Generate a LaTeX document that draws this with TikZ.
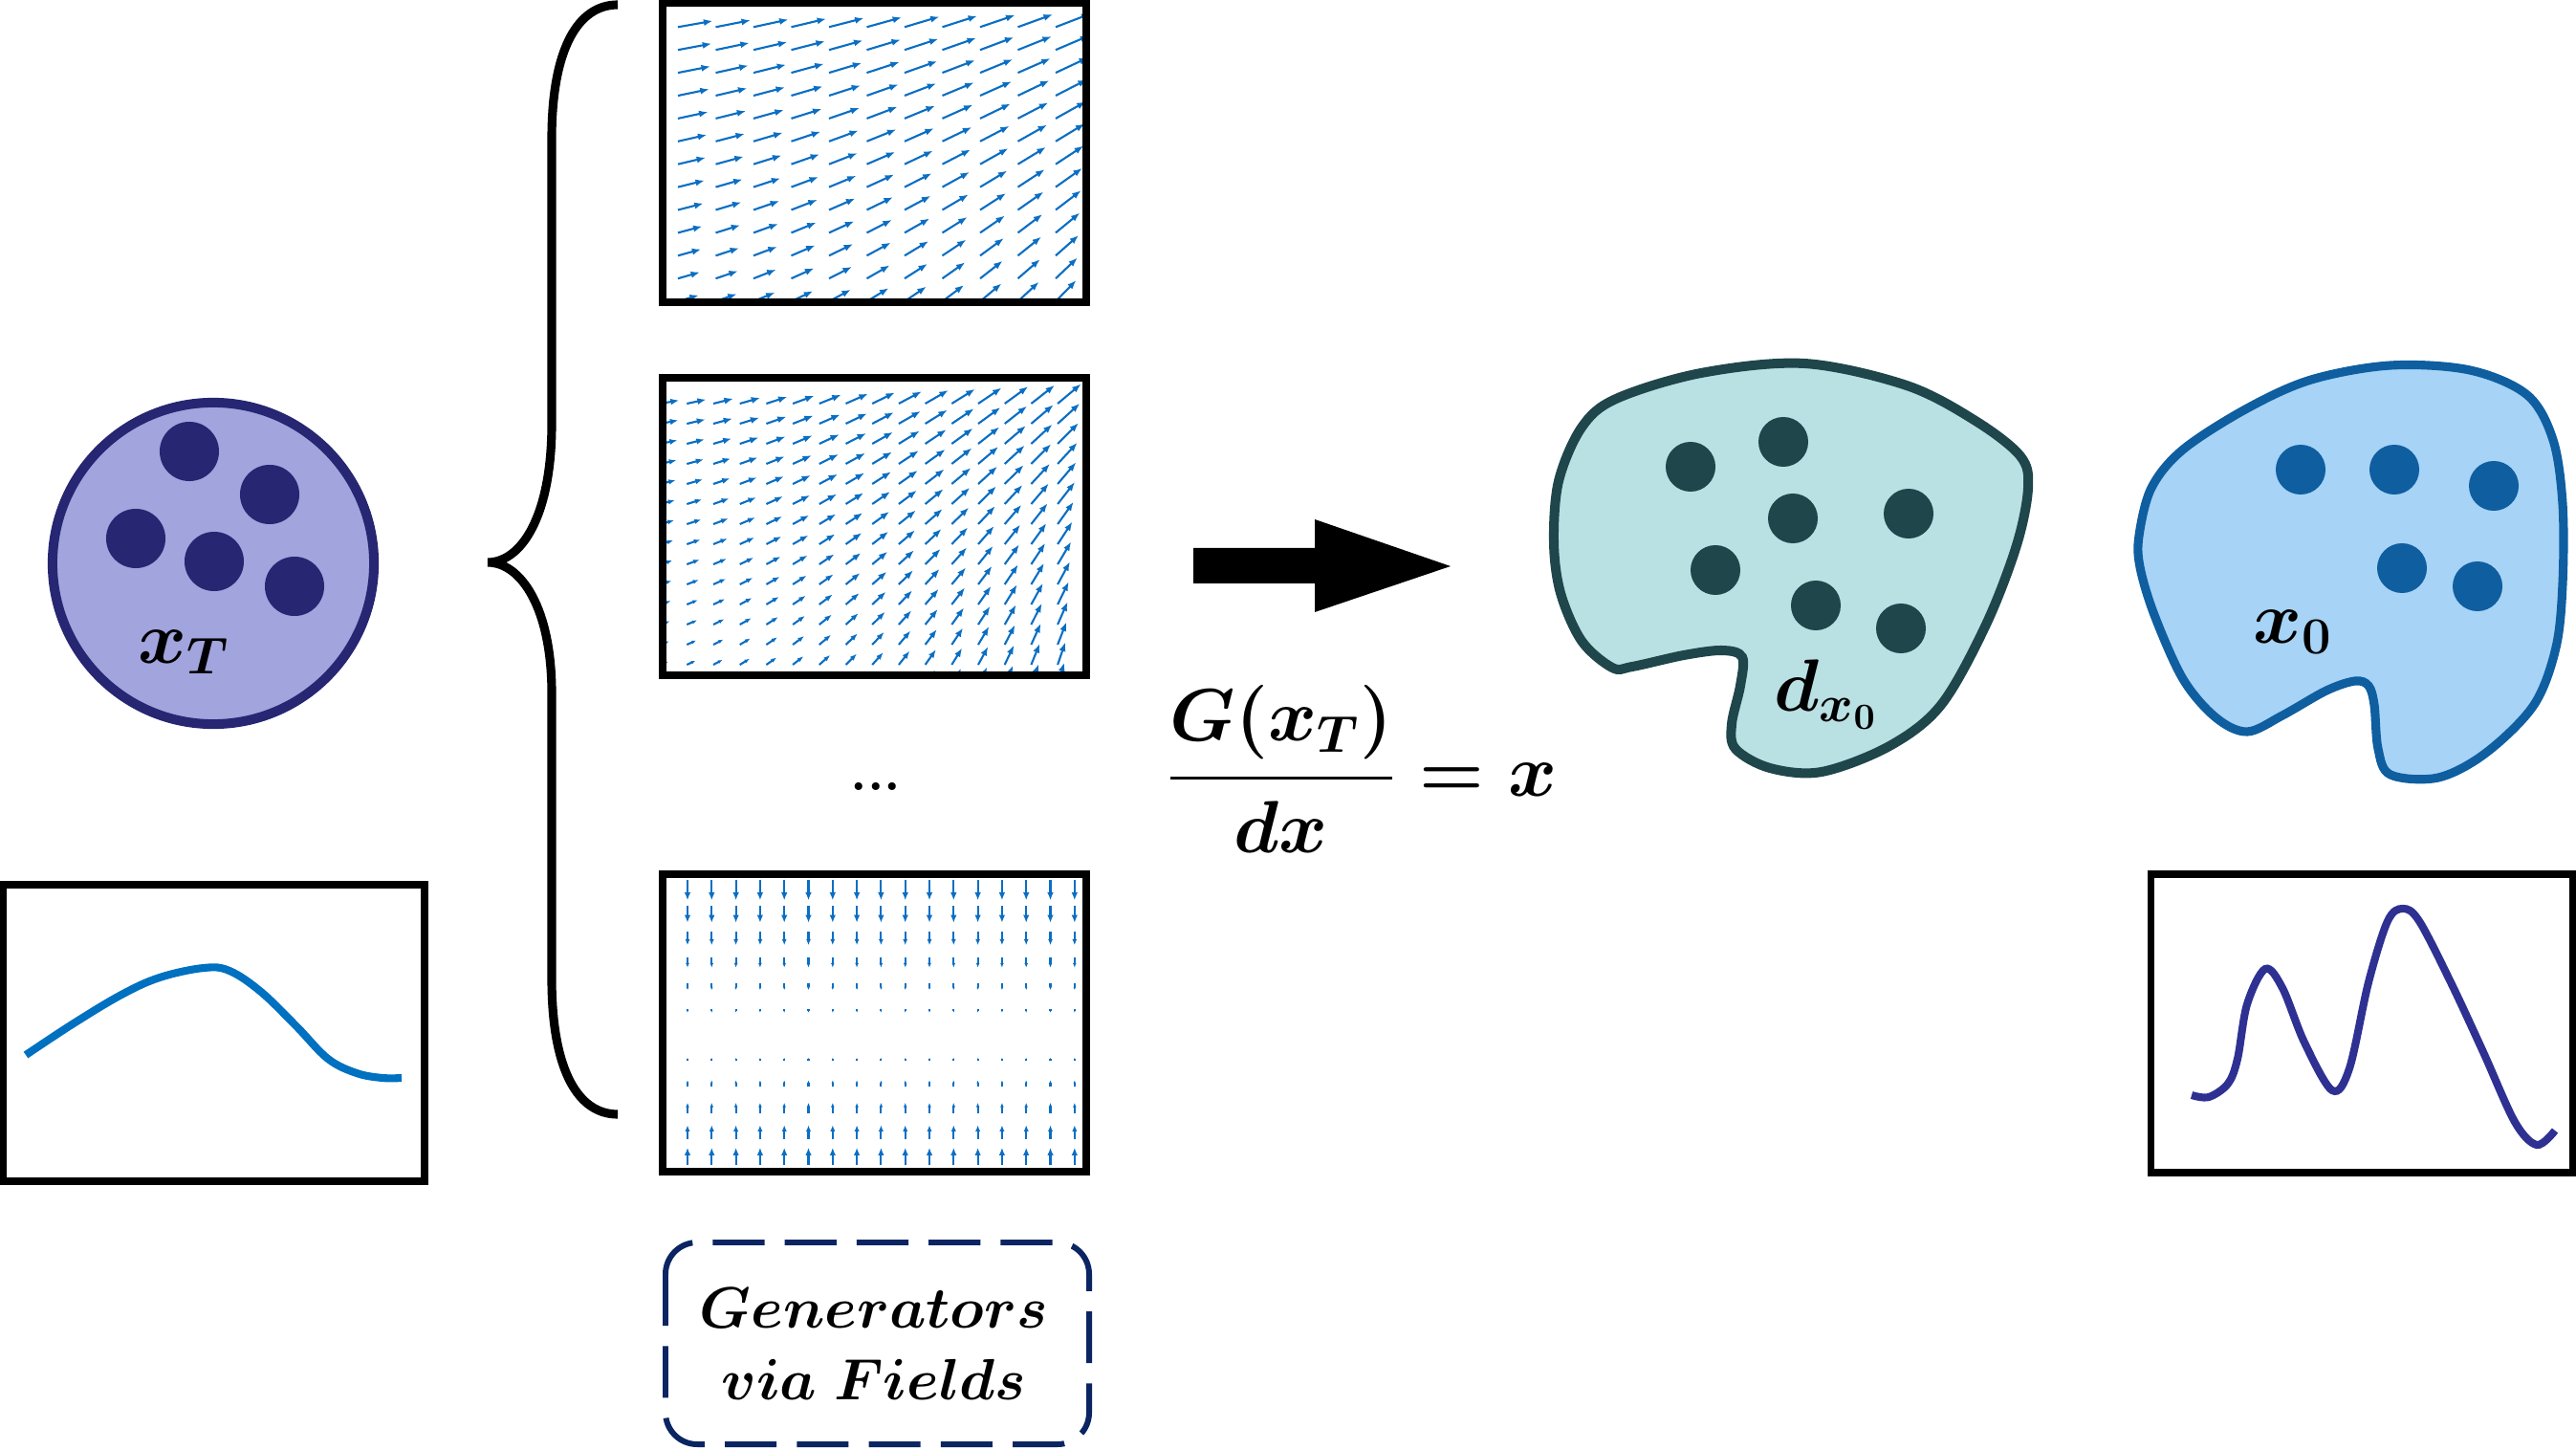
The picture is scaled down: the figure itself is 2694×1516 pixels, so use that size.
\documentclass[tikz,border=0pt]{standalone}
\usepackage{fix-cm}
\usepackage{amsmath}
\usetikzlibrary{arrows.meta}
\definecolor{fieldblue}{RGB}{10,110,195}
\definecolor{circfill}{RGB}{161,164,221}
\definecolor{circline}{RGB}{38,38,115}
\definecolor{tealfill}{RGB}{185,224,227}
\definecolor{tealline}{RGB}{31,70,75}
\definecolor{bluefill}{RGB}{166,211,246}
\definecolor{blueline}{RGB}{15,94,160}
\definecolor{curveA}{RGB}{0,112,192}
\definecolor{curveB}{RGB}{46,49,146}
\definecolor{dashnavy}{RGB}{11,37,99}
\begin{document}
\begin{tikzpicture}[x=0.01cm,y=-0.01cm,
  plotframe/.style={draw=black,line width=2pt},
  mlabel/.style={inner sep=0pt,font=\boldmath\fontsize{22}{26}\selectfont},
  curveline/.style={line width=2.3pt},
  qv/.style={fieldblue,line width=0.6pt},
]
\useasboundingbox (0,0) rectangle (2694,1516);

% ---------- left circle x_T ----------
\draw[draw=circline,fill=circfill,line width=2.85pt] (223,589) circle[radius=1.68cm];
\foreach \p in {(198,472),(282,517),(142,563),(224,587),(308,613)}
  \fill[circline] \p circle[radius=0.31cm];
\node[mlabel] (xT) at (192,682) {$x_T$};

% ---------- left plot ----------
\draw[plotframe] (3,925) rectangle (444,1235);
\draw[curveline,curveA] plot[smooth,tension=0.6] coordinates {(27,1103) (77,1070) (127,1040) (167,1022) (213,1012) (240,1015) (273,1037) (310,1073) (343,1107) (373,1122) (400,1127) (420,1127)};

% ---------- brace ----------
\draw[line width=2.6pt] (646,5) .. controls (605,5) and (577,50) .. (577,145) -- (577,443)
  .. controls (577,540) and (545,588) .. (510,588)
  .. controls (545,588) and (577,636) .. (577,725) -- (577,1023)
  .. controls (577,1120) and (605,1165) .. (646,1165);

% ---------- vector field 1 ----------
\begin{scope}
\clip (696.5,7) rectangle (1132.5,312.5);
\foreach \i in {0,...,11}{
 \foreach \j in {0,...,12}{
  \pgfmathsetmacro{\ang}{10+1.1*\i+0.55*\j+0.15*\i*\j}
  \pgfmathsetmacro{\len}{37+0.2*\i-1.18*\j+0.05*\i*\j}
  \pgfmathsetmacro{\hl}{min(2.7,0.45*\len*0.2845)}
  \pgfmathsetmacro{\hw}{0.75*\hl}
  \pgfmathsetmacro{\xa}{709+39.5*\i}
  \pgfmathsetmacro{\ya}{28.3+23.9*\j}
  \draw[qv,-{Latex[length=\hl pt,width=\hw pt]}] (\xa,\ya) -- ++({\len*cos(\ang)},{-\len*sin(\ang)});
 }}
\end{scope}
\draw[plotframe] (693,3.5) rectangle (1136,316);

% ---------- vector field 2 ----------
\begin{scope}
\clip (696.5,398.5) rectangle (1132.5,702.5);
\foreach \i in {0,...,16}{
 \foreach \j in {0,...,14}{
  \pgfmathsetmacro{\ang}{10+2*\i+0.9*\j+0.1*\i*\j}
  \pgfmathsetmacro{\len}{20+0.8*\i-0.85*\j+0.02*\i*\j}
  \pgfmathsetmacro{\hl}{min(2.7,0.45*\len*0.2845)}
  \pgfmathsetmacro{\hw}{0.75*\hl}
  \pgfmathsetmacro{\xa}{690.6+27.7*\i}
  \pgfmathsetmacro{\ya}{422+21*\j}
  \draw[qv,-{Latex[length=\hl pt,width=\hw pt]}] (\xa,\ya) -- ++({\len*cos(\ang)},{-\len*sin(\ang)});
 }}
\end{scope}
\draw[plotframe] (693,395) rectangle (1136,706);

% ---------- dots ----------
\node[inner sep=0pt,anchor=base,font=\bfseries\fontsize{16}{18}\selectfont] (dots) at (916,826) {...};

% ---------- vector field 3 ----------
\begin{scope}
\clip (696.5,917.5) rectangle (1132.5,1221.5);
\foreach \i in {0,...,16}{
 \foreach \j in {0,1,2,3,4,5,7,8,9,10,11}{
  \pgfmathsetmacro{\d}{6-\j}
  \pgfmathsetmacro{\s}{\d>0 ? 1 : -1}
  \pgfmathsetmacro{\len}{3.7*abs(\d)-0.5}
  \pgfmathsetmacro{\hl}{min(2.4,0.45*\len*0.2845)}
  \pgfmathsetmacro{\hw}{0.8*\hl}
  \pgfmathsetmacro{\xa}{719+25.3*\i}
  \pgfmathsetmacro{\yc}{1082.3+25.3*(\j-6)}
  \draw[qv,-{Latex[length=\hl pt,width=\hw pt]}] (\xa,{\yc-\s*\len/2}) -- (\xa,{\yc+\s*\len/2});
 }}
\end{scope}
\draw[plotframe] (693,914) rectangle (1136,1225);

% ---------- dashed label box ----------
\draw[dashnavy,line width=1.7pt,dash pattern=on 15.4pt off 6pt,rounded corners=9.4pt] (696,1299) rectangle (1139,1510);
\node[inner sep=0pt,align=center,font=\boldmath\fontsize{17.3}{21.3}\selectfont] (gen) at (914,1405) {$Generators$\\$via\ Fields$};

% ---------- big arrow ----------
\fill[black] (1248,573) -- (1375,573) -- (1375,543) -- (1517,592) -- (1375,640) -- (1375,610) -- (1248,610) -- cycle;

% ---------- formula ----------
\node[mlabel] (eq) at (1424,804) {$\dfrac{G(x_T)}{dx}=x$};

% ---------- teal blob ----------
\draw[draw=tealline,fill=tealfill,line width=2.85pt] plot[smooth cycle,tension=0.55] coordinates {
(1707,697) (1686,698) (1654,670) (1632,620) (1625,567) (1630,503) (1654,447) (1690,417) (1779,390) (1887,380) (1994,403) (2066,440) (2113,477) (2121,510) (2109,570) (2077,653) (2030,737) (1976,780) (1905,807) (1851,803) (1815,783) (1811,757) (1820,717) (1822,687) (1801,680) (1761,685)};
\foreach \p in {(1768,488),(1865,462),(1875,542),(1996,537),(1794,596),(1899,633),(1988,657)}
  \fill[tealline] \p circle[radius=0.26cm];
\node[mlabel] (dx0) at (1910,726) {$d_{x_0}$};

% ---------- blue blob ----------
\draw[draw=blueline,fill=bluefill,line width=2.6pt] plot[smooth cycle,tension=0.55] coordinates {
(2237,560) (2250,510) (2283,470) (2350,427) (2417,397) (2500,382) (2583,387) (2643,413) (2670,460) (2680,527) (2680,610) (2673,677) (2650,737) (2600,787) (2550,813) (2500,810) (2487,783) (2483,737) (2477,717) (2463,712) (2433,722) (2387,748) (2350,765) (2317,750) (2283,710) (2253,643) (2238,593)};
\foreach \p in {(2406,491),(2504,491),(2608,508),(2512,594),(2591,613)}
  \fill[blueline] \p circle[radius=0.26cm];
\node[mlabel] (x0) at (2398,661) {$x_0$};

% ---------- right plot ----------
\draw[plotframe] (2249,914) rectangle (2690,1226);
\draw[curveline,curveB] plot[smooth,tension=0.55] coordinates {(2292,1145) (2310,1147) (2330,1133) (2340,1107) (2350,1050) (2369,1013) (2387,1033) (2410,1090) (2439,1140) (2457,1117) (2477,1027) (2497,963) (2513,950) (2530,963) (2563,1027) (2597,1100) (2630,1173) (2653,1197) (2672,1182)};
\end{tikzpicture}
\end{document}
